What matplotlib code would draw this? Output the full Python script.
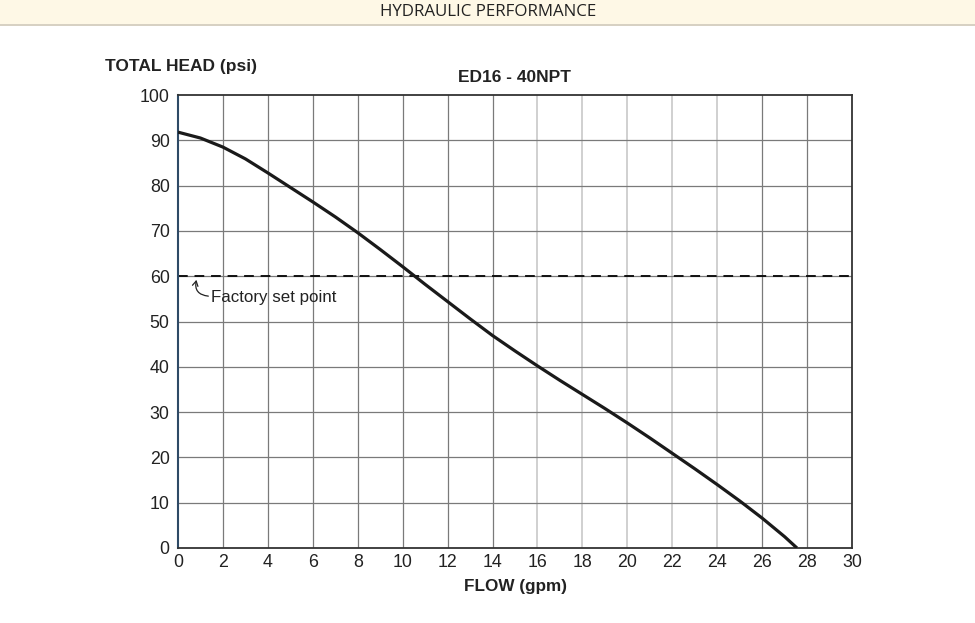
import matplotlib
matplotlib.use("Agg")
import matplotlib.pyplot as plt
from matplotlib.patches import Rectangle
from matplotlib.lines import Line2D

flow = [0, 1, 2, 3, 4, 5, 6, 7, 8, 9, 10, 11, 12, 13, 14, 15, 16, 17, 18, 19,
        20, 21, 22, 23, 24, 25, 26, 27, 27.55]
head = [91.8, 90.5, 88.5, 85.9, 82.8, 79.6, 76.4, 73.1, 69.6, 65.9, 62.1, 58.2,
        54.4, 50.6, 46.9, 43.5, 40.2, 37.0, 33.9, 30.8, 27.6, 24.3, 20.9, 17.5,
        14.0, 10.4, 6.6, 2.5, 0]
set_point = 60
x_ticks = list(range(0, 31, 2))
y_ticks = list(range(0, 101, 10))
light_x = [16, 18, 20, 22, 24]

plt.rcParams['font.family'] = ['Liberation Sans', 'DejaVu Sans']

fig = plt.figure(figsize=(9.75, 6.23), dpi=100)
W, H = 975, 623

# header band
fig.patches.append(Rectangle((0, 1 - 24 / H), 1, 24 / H, transform=fig.transFigure,
                             facecolor='#fef8e6', edgecolor='none', zorder=0))
fig.lines.append(Line2D([0, 1], [1 - 24.5 / H, 1 - 24.5 / H], transform=fig.transFigure,
                        color='#cfc8b8', lw=1.2))
fig.text(488 / W, 1 - 12 / H, 'HYDRAULIC PERFORMANCE', ha='center', va='center',
         fontsize=12.2, family=['Open Sans', 'DejaVu Sans'], color='#222222')

ax = fig.add_axes([178 / W, 1 - 548 / H, 674 / W, 453 / H])
ax.set_xlim(0, 30)
ax.set_ylim(0, 100)
ax.set_xticks(x_ticks)
ax.set_yticks(y_ticks)
ax.tick_params(length=0, labelsize=12.8, colors='#222222')
ax.tick_params(axis='y', pad=6)
ax.tick_params(axis='x', pad=4)

for xv in x_ticks[1:-1]:
    ax.axvline(xv, color='#c8c8c8' if xv in light_x else '#7a7a7a',
               lw=1.2 if xv in light_x else 0.9, zorder=1)
for yv in y_ticks[1:-1]:
    ax.axhline(yv, color='#7a7a7a', lw=0.9, zorder=1)

for s in ['top', 'right', 'bottom']:
    ax.spines[s].set_color('#333333')
    ax.spines[s].set_linewidth(1.3)
ax.spines['left'].set_color('#2e4a66')
ax.spines['left'].set_linewidth(1.5)

ax.axhline(set_point, color='#111111', lw=1.4, ls=(0, (5, 3.5)), zorder=2)
ax.plot(flow, head, color='#1a1a1a', lw=2.3, zorder=3, solid_capstyle='butt',
        solid_joinstyle='round')

ax.text(1.45, 55.3, 'Factory set point', fontsize=12.2, color='#222222',
        va='center', ha='left')
ax.annotate('', xy=(0.82, 59.2), xytext=(1.35, 55.6),
            arrowprops=dict(arrowstyle='->,head_length=0.35,head_width=0.2',
                            color='#222222', lw=0.9, shrinkA=0, shrinkB=0,
                            connectionstyle='arc3,rad=-0.55'))

ax.set_title('ED16 - 40NPT', fontsize=12.5, fontweight='bold', color='#222222', pad=9)
fig.text(105 / W, 1 - 66 / H, 'TOTAL HEAD (psi)', ha='left', va='center',
         fontsize=12.5, fontweight='bold', color='#222222')
fig.text(515 / W, 1 - 587 / H, 'FLOW (gpm)', ha='center', va='center',
         fontsize=12.3, fontweight='bold', color='#222222')

fig.savefig('out.png', dpi=100)
